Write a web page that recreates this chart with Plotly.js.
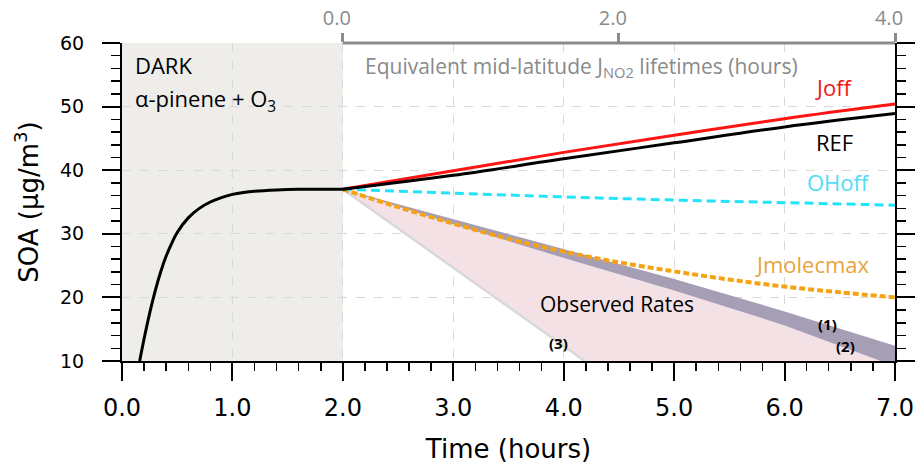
<!DOCTYPE html>
<html>
<head>
<meta charset="utf-8">
<script src="https://cdn.plot.ly/plotly-3.0.1.min.js"></script>
<style>html,body{margin:0;padding:0;background:#fff;}</style>
</head>
<body>
<div id="chart" style="width:917px;height:466px;"></div>
<script>
// ---- data ----
const xRange = [0, 7];
const yRange = [10, 60];
const darkT   = [0.16, 0.2, 0.25, 0.3, 0.35, 0.4, 0.45, 0.5, 0.6, 0.7, 0.8, 0.9, 1.0, 1.1, 1.2, 1.4, 1.6, 1.8, 2.0];
const darkSOA = [10, 13.5, 17.5, 21, 24, 26.5, 28.5, 30.2, 32.5, 34, 35, 35.7, 36.2, 36.5, 36.7, 36.9, 37.0, 37.0, 37.0];

const lightT = [2, 3, 4, 5, 6, 7];
const joff   = [37, 39.9, 42.8, 45.5, 48.1, 50.4];
const ref    = [37, 39.2, 41.8, 44.3, 46.8, 48.9];
const ohoff  = [37, 36.4, 35.8, 35.3, 34.9, 34.5];

const jmolT  = [2, 2.5, 3, 3.5, 4, 4.5, 5, 5.5, 6, 6.5, 7];
const jmol   = [37, 34.2, 31.6, 29.2, 27.2, 25.5, 24.1, 22.8, 21.7, 20.8, 20.0];

const obs1T = [2, 3, 4, 5, 6, 7];
const obs1  = [37, 32.3, 27.5, 22.9, 17.8, 12.4];
const obs2T = [2, 3, 4, 5, 6, 6.87];
const obs2  = [37, 31.5, 26.2, 21.1, 15.6, 10];
const obs3T = [2, 4.19];
const obs3  = [37, 10];

const darkPeriod = [0, 2];
const topTickVals = [0, 2, 4];
const topTickText = ['0.0', '2.0', '4.0'];
const topRange = [-1.6, 4];   // J_NO2 lifetime axis: 0 at t=2 h, 4 at t=7 h

// ---- traces ----
const rev = a => a.slice().reverse();
const traces = [
  { // pink band (3)-(2)
    x: obs3T.concat(rev(obs2T)), y: obs3.concat(rev(obs2)),
    mode: 'lines', fill: 'toself', fillcolor: '#f3e1e5',
    line: {width: 0}, hoverinfo: 'skip', showlegend: false
  },
  { // light edge of (3)
    x: obs3T, y: obs3, mode: 'lines',
    line: {color: '#d8d8d8', width: 2.5}, showlegend: false
  },
  { // purple band (1)-(2)
    x: obs1T.concat([xRange[1]], rev(obs2T)),
    y: obs1.concat([yRange[0]], rev(obs2)),
    mode: 'lines', fill: 'toself', fillcolor: '#a69eb5',
    line: {width: 0}, showlegend: false
  },
  { x: jmolT, y: jmol, mode: 'lines', line: {color: '#f5a314', width: 4, dash: '6px,3px', shape: 'spline'}, showlegend: false },
  { x: lightT, y: ohoff, mode: 'lines', line: {color: '#22e4f8', width: 3, dash: '9px,5px', shape: 'spline'}, showlegend: false },
  { x: lightT, y: joff, mode: 'lines', line: {color: '#ff1414', width: 3, shape: 'spline'}, showlegend: false },
  { x: lightT, y: ref, mode: 'lines', line: {color: '#000000', width: 3, shape: 'spline'}, showlegend: false },
  { x: darkT, y: darkSOA, mode: 'lines', line: {color: '#000000', width: 3, shape: 'spline'}, showlegend: false },
  { // invisible trace to activate top axis
    x: topTickVals, y: [yRange[1], yRange[1], yRange[1]], xaxis: 'x2', mode: 'lines',
    line: {width: 0}, hoverinfo: 'skip', showlegend: false
  }
];

const txtFont = 'Open Sans, Lato, sans-serif';
const axFont = 'DejaVu Sans, sans-serif';

const layout = {
  width: 917, height: 466,
  margin: {l: 122, r: 22, t: 43, b: 105},
  paper_bgcolor: '#ffffff', plot_bgcolor: '#ffffff',
  showlegend: false,
  xaxis: {
    range: xRange, dtick: 1, tick0: 0, tickformat: '.1f',
    ticks: 'outside', ticklen: 18, tickwidth: 2, tickcolor: '#000',
    showline: true, linewidth: 2, linecolor: '#000', mirror: false,
    showgrid: true, gridcolor: '#d9d9d9', griddash: 'dash', gridwidth: 1,
    zeroline: false,
    minor: {ticks: 'outside', ticklen: 8, tickwidth: 1.5, tickcolor: '#000', dtick: 0.2, showgrid: false},
    tickfont: {family: axFont, size: 24, color: '#000'},
    ticklabelstandoff: 6,
    title: {text: 'Time (hours)', font: {family: axFont, size: 26, color: '#000'}, standoff: 19}
  },
  xaxis2: {
    overlaying: 'x', side: 'top', range: topRange,
    tickvals: topTickVals, ticktext: topTickText,
    ticks: 'outside', ticklen: 9, tickwidth: 3, tickcolor: '#8c8c8c',
    showline: false, showgrid: false, zeroline: false,
    tickfont: {family: txtFont, size: 20, color: '#8a8a8a'},
    ticklabelshift: -6
  },
  yaxis: {
    range: yRange, dtick: 10, tick0: 0,
    ticks: 'outside', ticklen: 18, tickwidth: 2, tickcolor: '#000',
    showline: true, linewidth: 2, linecolor: '#000', mirror: 'ticks',
    showgrid: true, gridcolor: '#d9d9d9', griddash: 'dash', gridwidth: 1,
    zeroline: false,
    minor: {ticks: 'outside', ticklen: 9, tickwidth: 1.5, tickcolor: '#000', dtick: 2, showgrid: false},
    tickfont: {family: axFont, size: 19, color: '#000'},
    ticklabelstandoff: 14,
    title: {text: 'SOA (µg/m<sup>3</sup>)', font: {family: axFont, size: 26, color: '#000'}, standoff: 14}
  },
  shapes: [
    {type: 'rect', xref: 'x', yref: 'paper', x0: darkPeriod[0], x1: darkPeriod[1], y0: 0, y1: 1,
     fillcolor: '#eeede9', line: {width: 0}, layer: 'below'},
    {type: 'line', xref: 'x2', yref: 'paper', x0: topTickVals[0], x1: topTickVals[2], y0: 1, y1: 1,
     line: {color: '#8c8c8c', width: 3}, yshift: -1.5}
  ],
  annotations: [
    {text: 'DARK', x: 0.1, y: 56.5, xanchor: 'left', yanchor: 'middle', showarrow: false,
     font: {family: txtFont, size: 22, color: '#000'}},
    {text: 'α-pinene + O<sub>3</sub>', x: 0.1, y: 51.0, xanchor: 'left', yanchor: 'middle', showarrow: false,
     font: {family: txtFont, size: 22, color: '#000'}},
    {text: 'Equivalent mid-latitude J<sub>NO2</sub> lifetimes (hours)', x: 4.16, y: 56.2, xanchor: 'center', yanchor: 'middle', showarrow: false,
     font: {family: txtFont, size: 21, color: '#8a8a8a'}},
    {text: 'Joff', x: 6.44, y: 53.1, showarrow: false, font: {family: txtFont, size: 22, color: '#f01414'}},
    {text: 'REF', x: 6.45, y: 44.4, showarrow: false, font: {family: txtFont, size: 22, color: '#000'}},
    {text: 'OHoff', x: 6.49, y: 38.1, showarrow: false, font: {family: txtFont, size: 22, color: '#4fdcf7'}},
    {text: 'Jmolecmax', x: 6.25, y: 25.25, showarrow: false, font: {family: txtFont, size: 22, color: '#e9a43c'}},
    {text: 'Observed Rates', x: 4.48, y: 19.0, showarrow: false, font: {family: txtFont, size: 21, color: '#000'}},
    {text: '<b>(1)</b>', x: 6.39, y: 15.8, showarrow: false, font: {family: txtFont, size: 15, color: '#000'}},
    {text: '<b>(2)</b>', x: 6.55, y: 12.4, showarrow: false, font: {family: txtFont, size: 15, color: '#000'}},
    {text: '<b>(3)</b>', x: 3.95, y: 12.8, showarrow: false, font: {family: txtFont, size: 15, color: '#000'}}
  ]
};

Plotly.newPlot('chart', traces, layout, {displayModeBar: false, staticPlot: true});
</script>
</body>
</html>
